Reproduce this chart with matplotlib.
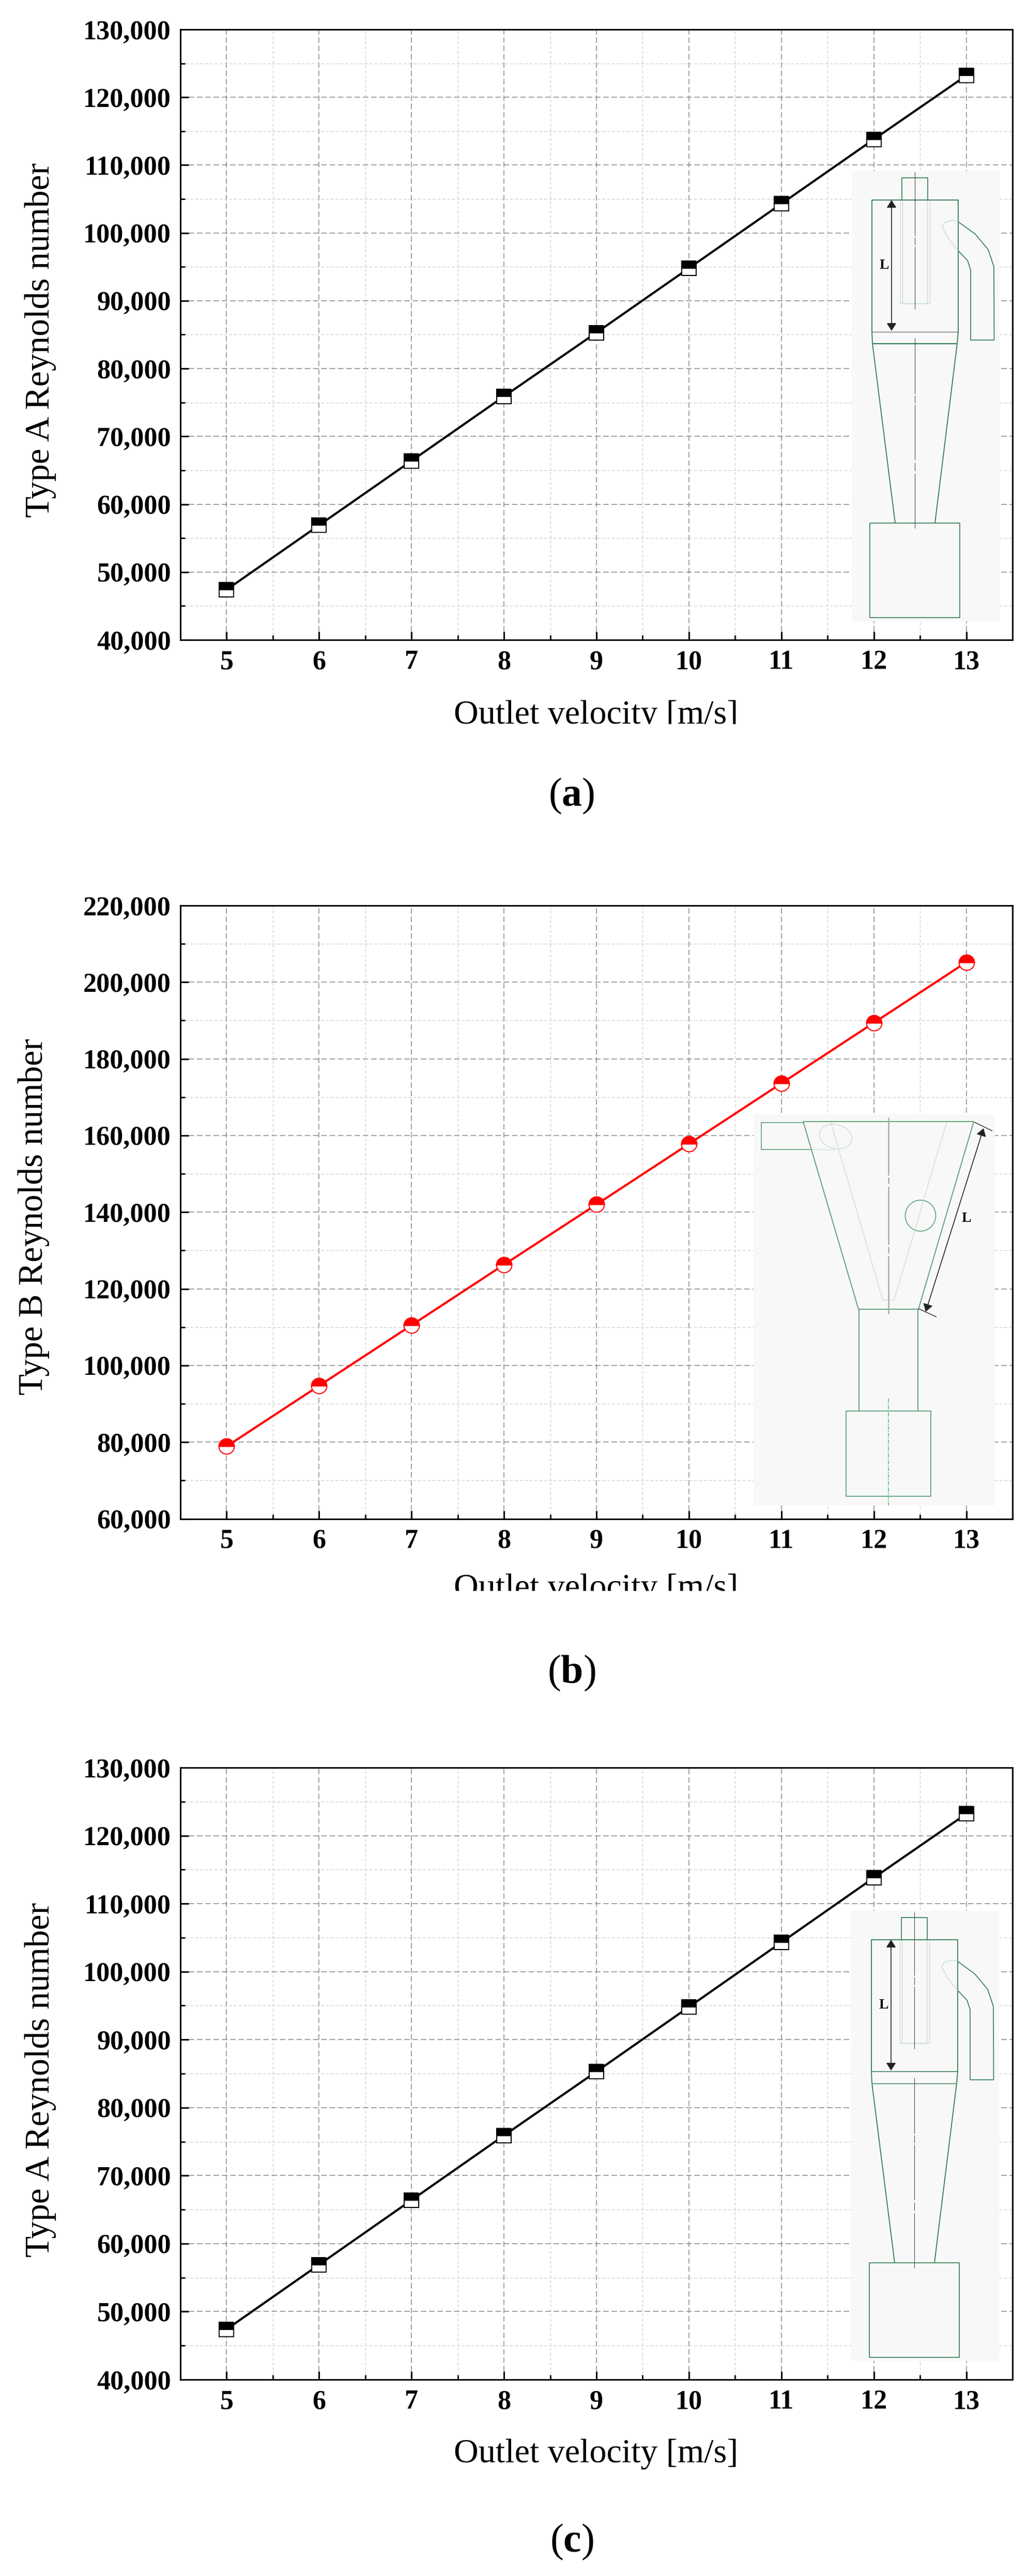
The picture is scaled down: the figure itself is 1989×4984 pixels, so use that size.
import matplotlib
matplotlib.use("Agg")
import matplotlib.pyplot as plt
from matplotlib.patches import Ellipse, Rectangle
from matplotlib.ticker import MultipleLocator, StrMethodFormatter
from matplotlib.transforms import Bbox

plt.rcParams["font.family"] = ["Liberation Serif", "DejaVu Serif"]
plt.rcParams["mathtext.fontset"] = "custom"
plt.rcParams["mathtext.rm"] = "Liberation Serif"
plt.rcParams["mathtext.bf"] = "Liberation Serif:bold"

W, H = 1989, 4984

velocity = [5, 6, 7, 8, 9, 10, 11, 12, 13]
re_type_a = [47400, 56900, 66400, 75900, 85300, 94800, 104300, 113800, 123200]
re_type_b = [78900, 94700, 110500, 126300, 142000, 157800, 173600, 189400, 205200]

X_LABEL = "Outlet velocity [m/s]"
LABEL_A = "Type A Reynolds number"
LABEL_B = "Type B Reynolds number"

GREEN_DARK = "#2f7a4f"
GREEN_MID = "#5f9f78"
GREEN_PALE = "#c6ddcf"


def add_panel(fig, top, bottom, values, ylim, ystep, color, marker, ms):
    left, right = 349, 1959
    ax = fig.add_axes([left / W, 1 - bottom / H, (right - left) / W, (bottom - top) / H])
    ax.set_axisbelow(True)
    ax.plot(velocity, values, "-", color=color, lw=3.0, marker=marker, ms=ms, mew=1.5,
            mec=color, mfc=color, fillstyle="top", markerfacecoloralt="white", zorder=5)
    ax.set_xlim(4.5, 13.5)
    ax.set_ylim(*ylim)
    ax.xaxis.set_major_locator(MultipleLocator(1))
    ax.xaxis.set_minor_locator(MultipleLocator(0.5))
    ax.yaxis.set_major_locator(MultipleLocator(ystep))
    ax.yaxis.set_minor_locator(MultipleLocator(ystep / 2))
    ax.yaxis.set_major_formatter(StrMethodFormatter("{x:,.0f}"))
    ax.grid(True, which="major", color="#888888", ls=(0, (7, 3.5)), lw=1.1)
    ax.grid(True, which="minor", color="#cccccc", ls=(0, (4.5, 3)), lw=0.9)
    ax.tick_params(which="major", direction="in", length=11.5, width=2.2)
    ax.tick_params(which="minor", direction="in", length=6.5, width=2.0)
    ax.tick_params(axis="x", which="major", pad=14, labelsize=37.5)
    ax.tick_params(axis="y", which="major", pad=13, labelsize=37.5)
    for lab in ax.get_xticklabels() + ax.get_yticklabels():
        lab.set_fontweight("bold")
    for sp in ax.spines.values():
        sp.set_linewidth(2.2)
    return ax


def poly(ov, pts, color, lw, dx=0, dy=0):
    ov.plot([p[0] + dx for p in pts], [p[1] + dy for p in pts], color=color, lw=lw,
            solid_capstyle="butt", solid_joinstyle="round")


def arrow(ov, start, end, lw=1.2):
    ov.annotate("", xy=end, xytext=start,
                arrowprops=dict(arrowstyle="<|-|>,head_width=0.32,head_length=0.5", color="#222222",
                                lw=lw, shrinkA=0, shrinkB=0, mutation_scale=18))


def draw_cyclone_a(ov, dx=0, dy=0, mid_color="#333333", mid_lw=0.6):
    ov.add_patch(Rectangle((1648 + dx, 331 + dy), 286, 871, fc="#f8f8f8", ec="none"))
    # vortex finder, seen through the body
    for x0, x1 in ((1742, 1799), (1746, 1794)):
        poly(ov, [(x0, 387), (x0, 587), (x1, 587), (x1, 387)], GREEN_PALE, 1.0, dx, dy)
    poly(ov, [(1745, 387), (1745, 344), (1795, 344), (1795, 387)], GREEN_DARK, 1.2, dx, dy)
    poly(ov, [(1688, 664), (1687, 642), (1687, 387), (1854, 387), (1854, 642), (1852, 664)],
         GREEN_DARK, 1.3, dx, dy)
    poly(ov, [(1687, 642), (1854, 642)], mid_color, mid_lw, dx, dy)
    poly(ov, [(1688, 664.5), (1852, 664.5)], GREEN_DARK, 1.5 if mid_lw < 1 else 1.0, dx, dy)
    poly(ov, [(1688, 664.5), (1732, 1012)], GREEN_DARK, 1.3, dx, dy)
    poly(ov, [(1852, 664.5), (1809, 1012)], GREEN_DARK, 1.3, dx, dy)
    poly(ov, [(1683, 1012), (1857, 1012), (1857, 1195), (1683, 1195), (1683, 1012)],
         GREEN_DARK, 1.2, dx, dy)
    # tangential inlet
    poly(ov, [(1854, 429), (1887, 453), (1912, 483), (1923, 516), (1923.5, 658),
              (1878, 658), (1878, 522), (1872, 504), (1854, 485)], GREEN_DARK, 1.2, dx, dy)
    poly(ov, [(1854, 429), (1843, 426), (1827, 431), (1823, 439), (1833, 459), (1854, 485)],
         GREEN_PALE, 1.1, dx, dy)
    # centre line
    for y0, y1 in ((333, 456), (459, 474), (477, 598), (654, 762), (765, 780),
                   (783, 890), (895, 911), (916, 1022)):
        poly(ov, [(1770, y0), (1770, y1)], "#444444", 0.8, dx, dy)
    arrow(ov, (1725 + dx, 387 + dy), (1725 + dx, 640 + dy))
    ov.text(1711 + dx, 514 + dy, "L", fontsize=20, fontweight="bold", ha="center", va="center")


def draw_cyclone_b(ov):
    ov.add_patch(Rectangle((1458, 2156), 467, 757, fc="#f8f8f8", ec="none"))
    poly(ov, [(1607, 2170), (1708, 2515), (1730, 2515), (1832, 2170)], GREEN_PALE, 0.9)
    poly(ov, [(1569, 2224), (1616, 2224)], GREEN_PALE, 0.9)
    ov.add_patch(Ellipse((1617, 2199), 64, 46, angle=14, fc="none", ec=GREEN_PALE, lw=1.0))
    poly(ov, [(1554, 2172), (1473, 2172), (1473, 2224), (1569, 2224)], GREEN_MID, 1.2)
    poly(ov, [(1554, 2170), (1884, 2170), (1777, 2533), (1661, 2533), (1554, 2170)], GREEN_MID, 1.4)
    poly(ov, [(1662, 2533), (1662, 2730)], GREEN_MID, 1.4)
    poly(ov, [(1776, 2533), (1776, 2730)], GREEN_MID, 1.4)
    poly(ov, [(1637, 2730), (1801, 2730), (1801, 2895), (1637, 2895), (1637, 2730)], GREEN_MID, 1.3)
    ov.add_patch(Ellipse((1781, 2352), 59, 60, fc="none", ec=GREEN_MID, lw=1.2))
    for y0, y1 in ((2162, 2274), (2278, 2290), (2296, 2408), (2412, 2425), (2430, 2542)):
        poly(ov, [(1719, y0), (1719, y1)], "#aaaaaa", 1.8)
    ov.plot([1719, 1719], [2706, 2913], color="#66cc88", lw=1.6, ls=(0, (3, 1, 1, 1)))
    poly(ov, [(1885, 2171), (1920, 2188)], "#222222", 1.0)
    poly(ov, [(1777, 2532), (1812, 2548)], "#222222", 1.0)
    arrow(ov, (1903, 2183), (1791, 2538))
    ov.text(1870, 2358, "L", fontsize=20, fontweight="bold", ha="center", va="center")


fig = plt.figure(figsize=(W / 100, H / 100), dpi=100, facecolor="white")

add_panel(fig, 57, 1238, re_type_a, (40000, 130000), 10000, "black", "s", 19.5)
add_panel(fig, 1752, 2938.5, re_type_b, (60000, 220000), 20000, "red", "o", 21.5)
add_panel(fig, 3420, 4604, re_type_a, (40000, 130000), 10000, "black", "s", 19.5)

# overlay in picture pixels for the cyclone sketches, axis titles and captions
ov = fig.add_axes([0, 0, 1, 1], facecolor="none")
ov.set_xlim(0, W)
ov.set_ylim(H, 0)
ov.set_axis_off()

draw_cyclone_a(ov)
draw_cyclone_b(ov)
draw_cyclone_a(ov, -1, 3366, GREEN_DARK, 1.1)

ov.text(78, 658, LABEL_A, rotation=90, fontsize=48.5, ha="center", va="center")
ov.text(65, 2354, LABEL_B, rotation=90, fontsize=48.5, ha="center", va="center")
ov.text(78, 4024, LABEL_A, rotation=90, fontsize=48.5, ha="center", va="center")

# the x titles of the first two panels are cut off at the bottom in the source figure
for base_y, clip_y in ((1400, 1401), (3090, 3078), (4764, None)):
    t = ov.text(1153.5, base_y, X_LABEL, fontsize=47.5, ha="center", va="baseline")
    if clip_y is not None:
        t.set_clip_box(Bbox([[0, H - clip_y], [W, H]]))
        t.set_clip_on(True)

for letter, cy in (("a", 1540), ("b", 3237), ("c", 4918)):
    ov.text(1106, cy, rf"($\mathbf{{{letter}}}$)", fontsize=56, ha="center", va="center")

fig.savefig("out.png", dpi=100, facecolor="white")
plt.close(fig)
